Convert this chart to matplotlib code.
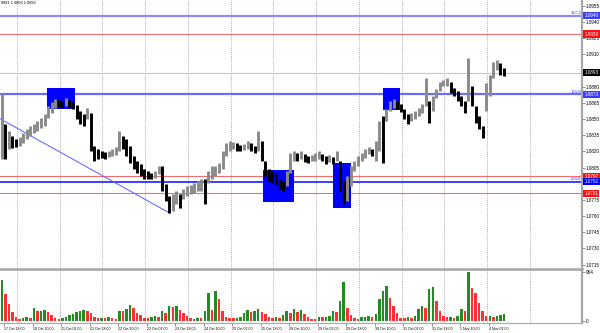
import matplotlib.pyplot as plt
from matplotlib.patches import Rectangle
import matplotlib.transforms as mtransforms

plt.rcParams['font.family'] = ['Liberation Sans', 'DejaVu Sans']

# EURUSD H1 in 2-hour steps (17 Oct 13:00 -> 4 Nov)
bar_hi = [1.08737, 1.08457, 1.08392, 1.08345, 1.08317, 1.08335, 1.08373, 1.08411, 1.08439, 1.08457,
          1.08485, 1.08513, 1.08551, 1.08625, 1.08663, 1.08691, 1.08681, 1.08672, 1.08700, 1.08681,
          1.08663, 1.08635, 1.08579, 1.08551, 1.08607, 1.08560, 1.08252, 1.08224, 1.08205, 1.08196,
          1.08205, 1.08224, 1.08242, 1.08392, 1.08345, 1.08317, 1.08252, 1.08158, 1.08112, 1.08084,
          1.08037, 1.08018, 1.08000, 1.08018, 1.08065, 1.08065, 1.07897, 1.07785, 1.07803, 1.07831,
          1.07803, 1.07850, 1.07878, 1.07887, 1.07906, 1.07925, 1.07944, 1.07944, 1.08018, 1.08065,
          1.08065, 1.08093, 1.08205, 1.08280, 1.08298, 1.08289, 1.08280, 1.08261, 1.08270, 1.08298,
          1.08280, 1.08252, 1.08392, 1.08298, 1.08112, 1.08037, 1.08018, 1.08000, 1.07944, 1.07925,
          1.08018, 1.08186, 1.08205, 1.08186, 1.08205, 1.08177, 1.08158, 1.08168, 1.08186, 1.08205,
          1.08177, 1.08158, 1.08168, 1.08149, 1.08205, 1.08112, 1.07925, 1.07972, 1.08065, 1.08112,
          1.08158, 1.08186, 1.08224, 1.08242, 1.08224, 1.08298, 1.08485, 1.08532, 1.08597, 1.08672,
          1.08691, 1.08672, 1.08644, 1.08597, 1.08551, 1.08560, 1.08579, 1.08607, 1.08644, 1.08878,
          1.08672, 1.08719, 1.08784, 1.08840, 1.08859, 1.08878, 1.08840, 1.08793, 1.08765, 1.08719,
          1.08672, 1.09064, 1.08812, 1.08625, 1.08532, 1.08439, 1.08831, 1.08906, 1.09027, 1.09046,
          1.09018, 1.08971]
bar_lo = [1.08130, 1.08130, 1.08224, 1.08233, 1.08242, 1.08252, 1.08280, 1.08317, 1.08345, 1.08373,
          1.08392, 1.08420, 1.08439, 1.08513, 1.08560, 1.08607, 1.08616, 1.08607, 1.08625, 1.08616,
          1.08597, 1.08504, 1.08457, 1.08439, 1.08504, 1.08205, 1.08112, 1.08130, 1.08140, 1.08130,
          1.08149, 1.08158, 1.08168, 1.08205, 1.08224, 1.08158, 1.08093, 1.08037, 1.08000, 1.07972,
          1.07944, 1.07944, 1.07944, 1.07953, 1.07990, 1.07831, 1.07738, 1.07626, 1.07645, 1.07710,
          1.07673, 1.07757, 1.07785, 1.07803, 1.07813, 1.07831, 1.07831, 1.07710, 1.07906, 1.07944,
          1.07972, 1.08000, 1.08037, 1.08158, 1.08205, 1.08224, 1.08205, 1.08205, 1.08214, 1.08224,
          1.08205, 1.08186, 1.08205, 1.08112, 1.07972, 1.07925, 1.07906, 1.07887, 1.07850, 1.07831,
          1.07878, 1.08000, 1.08112, 1.08112, 1.08130, 1.08102, 1.08093, 1.08112, 1.08112, 1.08130,
          1.08112, 1.08084, 1.08102, 1.08084, 1.08112, 1.07831, 1.07710, 1.07738, 1.07878, 1.08018,
          1.08065, 1.08112, 1.08140, 1.08177, 1.08158, 1.08112, 1.08205, 1.08093, 1.08485, 1.08579,
          1.08607, 1.08597, 1.08569, 1.08504, 1.08457, 1.08485, 1.08504, 1.08532, 1.08560, 1.08625,
          1.08467, 1.08579, 1.08700, 1.08765, 1.08803, 1.08812, 1.08747, 1.08719, 1.08672, 1.08625,
          1.08560, 1.08672, 1.08625, 1.08467, 1.08411, 1.08326, 1.08579, 1.08719, 1.08878, 1.08952,
          1.08906, 1.08896]
volume = [800, 520, 330, 180, 75, 40, 55, 70, 65, 250, 190, 200, 210, 170, 120, 60, 45, 55, 70, 110,
          140, 170, 190, 210, 200, 160, 70, 50, 60, 55, 70, 60, 45, 200, 190, 230, 320, 260, 160, 110,
          60, 50, 70, 90, 80, 190, 160, 300, 280, 300, 220, 150, 90, 55, 40, 65, 60, 200, 550, 220,
          580, 420, 200, 80, 60, 50, 65, 80, 150, 220, 170, 200, 240, 180, 130, 80, 60, 75, 65, 110,
          190, 160, 230, 180, 220, 130, 70, 40, 30, 80, 75, 80, 90, 200, 170, 390, 757, 260, 120, 60,
          35, 70, 80, 100, 75, 130, 430, 580, 680, 450, 300, 160, 65, 50, 70, 60, 90, 225, 290, 260,
          615, 666, 390, 200, 100, 70, 85, 60, 100, 225, 195, 950, 650, 550, 350, 200, 90, 100, 85, 100,
          120, 140]

time_labels = ['17 Oct 18:00', '18 Oct 10:00', '21 Oct 02:00', '21 Oct 18:00', '22 Oct 10:00',
               '23 Oct 02:00', '23 Oct 18:00', '24 Oct 10:00', '25 Oct 02:00', '25 Oct 18:00',
               '28 Oct 10:00', '29 Oct 02:00', '29 Oct 18:00', '30 Oct 10:00', '31 Oct 02:00',
               '31 Oct 18:00', '1 Nov 10:00', '4 Nov 02:00']
price_ticks = [1.0955, 1.0940, 1.0925, 1.0910, 1.0895, 1.0880, 1.0865, 1.0850, 1.0835, 1.0820,
               1.0805, 1.0790, 1.0775, 1.0760, 1.0745, 1.0730, 1.0715]
hidden_ticks = [1.0895, 1.0790]  # covered by the price boxes on the scale

# drawn objects (x in hourly bars from the left edge)
fib_names = ['127.2', '161.8', '200.0']
fib_prices = [1.0946, 1.0873, 1.0792]
red_levels = [1.0929, 1.0797, 1.0781]
bid = 1.0893
trend_x = [0, 95.5]
trend_y = [1.08504, 1.07626]
zone_x0 = [26.4, 147.7, 187.0, 215.0]
zone_x1 = [42.1, 165.1, 197.1, 224.6]
zone_top = [1.08793, 1.08028, 1.08093, 1.08793]
zone_bot = [1.08597, 1.07729, 1.07673, 1.08588]

n = len(bar_hi)
xs = [2 * i + 1 for i in range(n)]
mid = [(h + l) / 2 for h, l in zip(bar_hi, bar_lo)]
bar_col = ['#8a8a8a' if i == 0 or mid[i] >= mid[i - 1] else 'black' for i in range(n)]
vol_col = ['#228b22' if i == 0 or volume[i] > volume[i - 1] else '#ff3030' for i in range(n)]

fig = plt.figure(figsize=(6, 3.33), dpi=100)
H = 333.0
ax = fig.add_axes([0, 1 - 268.5 / H, 0.97, 268.5 / H])
axv = fig.add_axes([0, 1 - 323 / H, 0.97, 53.5 / H], sharex=ax)

grid_x = [9.5 + 24 * k for k in range(13)]
for a in (ax, axv):
    for g in grid_x:
        a.axvline(g, color='#909090', lw=0.6, ls=(0, (1, 1.5)), zorder=0)
    for s in ('left', 'top', 'bottom'):
        a.spines[s].set_visible(False)
    a.spines['right'].set_color('#a8a8a8')
    a.spines['right'].set_linewidth(1.6)
    a.yaxis.tick_right()
    a.tick_params(axis='y', length=2, width=0.5, color='#606060', labelsize=3.3, pad=1)

ax.spines['bottom'].set_visible(True)
ax.spines['bottom'].set_color('#a8a8a8')
ax.spines['bottom'].set_linewidth(1.8)

# price bars
ax.vlines(xs, bar_lo, bar_hi, colors=bar_col, lw=2.1, zorder=3)

# horizontal levels
ax.axhline(bid, color='#c8c8c8', lw=0.8, zorder=1)
for p in red_levels:
    ax.axhline(p, color='#f07070', lw=0.8, zorder=2)
ax.axhline(fib_prices[0], color='#8c8cff', lw=1.6, zorder=2)
ax.axhline(fib_prices[1], color='#6a6aff', lw=1.6, zorder=2)
ax.axhline(fib_prices[2], color='#1c1cff', lw=1.2, zorder=2)
ax.plot(trend_x, trend_y, color='#5a5aff', lw=0.7, zorder=2)

for x0, x1, t, b in zip(zone_x0, zone_x1, zone_top, zone_bot):
    ax.add_patch(Rectangle((x0, b), x1 - x0, t - b, facecolor='#0000ff', edgecolor='none', zorder=2))

ax.set_xlim(0, 326.8)
ax.set_ylim(1.07113, 1.09606)
ax.set_yticks(price_ticks, ['' if p in hidden_ticks else f'{p:.4f}' for p in price_ticks])
ax.tick_params(axis='x', bottom=False, labelbottom=False)

tr = mtransforms.blended_transform_factory(ax.transAxes, ax.transData)
for name, p in zip(fib_names, fib_prices):
    ax.text(0.998, p + 0.00003, name, transform=tr, ha='right', va='bottom',
            fontsize=3.1, color='#3030ff', zorder=5)
box_labels = [(1.0946, '#3c3cff'), (1.0929, '#ff1010'), (bid, 'black'), (1.0873, '#3c3cff'),
              (1.0797, '#ff1010'), (1.0792, '#0000ee'), (1.0781, '#ff1010')]
for p, c in box_labels:
    ax.text(1.004, p, f'{p:.4f}', transform=tr, ha='left', va='center', fontsize=3.3,
            color='white', clip_on=False, zorder=6,
            bbox=dict(boxstyle='square,pad=0.25', facecolor=c, edgecolor='none'))

# volumes
axv.bar(xs, volume, width=1.4, color=vol_col, zorder=3)
axv.set_ylim(-40, 1004)
axv.set_yticks([0, 964], ['0', '964'])
axv.spines['bottom'].set_visible(True)
axv.spines['bottom'].set_color('#a8a8a8')
axv.spines['bottom'].set_linewidth(0.8)
axv.spines['top'].set_visible(True)
axv.spines['top'].set_color('#a8a8a8')
axv.spines['top'].set_linewidth(1.2)
label_x = [2.5 + 16 * k for k in range(len(time_labels))]
axv.set_xticks(label_x, time_labels)
axv.tick_params(axis='x', length=2, width=0.5, color='#606060', labelsize=2.6, pad=1)
for t in axv.get_xticklabels():
    t.set_ha('left')

fig.text(0.001, 0.997, '0891 1.0893 1.0893', fontsize=2.8, va='top', ha='left')

fig.savefig('out.png', dpi=100, facecolor='white')
